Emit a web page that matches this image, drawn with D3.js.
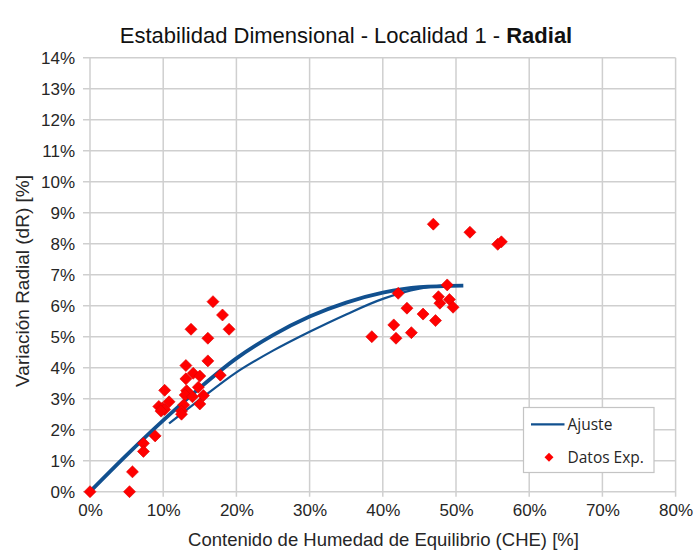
<!DOCTYPE html>
<html>
<head>
<meta charset="utf-8">
<script src="https://cdn.jsdelivr.net/npm/d3@7"></script>
<style>
  html, body { margin: 0; padding: 0; background: #fff; }
  svg { display: block; }
  text { font-family: "Liberation Sans", Arial, sans-serif; }
</style>
</head>
<body>
<svg id="chart" width="695" height="551"></svg>
<script>
// ---- Data ----
const xTicks = [0, 10, 20, 30, 40, 50, 60, 70, 80];
const yTicks = [0, 1, 2, 3, 4, 5, 6, 7, 8, 9, 10, 11, 12, 13, 14];

// Experimental points: CHE [%] and dR [%]
const expX = [0, 5.4, 5.8, 7.3, 7.3, 8.9, 10.2, 9.4, 9.9, 10.2, 10.8, 9.7,
  13.8, 16.8, 18.1, 19.0, 16.1, 16.1, 17.8, 13.1, 13.1, 14.1, 15.0, 13.2,
  13.0, 14.0, 14.8, 15.5, 15.0, 12.8, 12.5, 12.5,
  38.5, 41.8, 41.5, 43.9, 43.3, 42.1, 45.5, 47.2, 47.8, 47.6, 49.1, 49.6,
  48.8, 46.9, 51.9, 55.7, 56.2];
const expY = [0, 0, 0.64, 1.56, 1.3, 1.8, 3.27, 2.75, 2.7, 2.65, 2.9, 2.6,
  5.24, 6.13, 5.7, 5.24, 4.95, 4.22, 3.76, 4.07, 3.64, 3.82, 3.73, 3.26,
  3.12, 3.06, 3.37, 3.1, 2.83, 2.8, 2.6, 2.5,
  5.0, 4.95, 5.38, 5.13, 5.92, 6.4, 5.73, 5.52, 6.08, 6.29, 6.2, 5.95,
  6.67, 8.63, 8.37, 7.98, 8.06];

// Fitted curves (Ajuste)
const fit1X = [0, 5, 10, 15, 20, 25, 30, 35, 40, 45, 51];
const fit1Y = [0, 1.18, 2.3, 3.35, 4.3, 5.05, 5.65, 6.1, 6.42, 6.6, 6.65];
const fit2X = [10.8, 15, 20, 25, 30, 35, 40, 45, 48];
const fit2Y = [2.2, 2.97, 3.85, 4.55, 5.16, 5.72, 6.22, 6.55, 6.65];

const titleMain = "Estabilidad Dimensional - Localidad 1 - ";
const titleBold = "Radial";
const xTitle = "Contenido de Humedad de Equilibrio (CHE) [%]";
const yTitle = "Variación Radial (dR) [%]";
const legendLabels = ["Ajuste", "Datos Exp."];

// ---- Drawing ----
const svg = d3.select("#chart");
const x = d3.scaleLinear().domain([0, 80]).range([90, 675.6]);
const y = d3.scaleLinear().domain([0, 14]).range([491.7, 57.7]);

const gridColor = "#cfcfcf";
const textColor = "#262626";
const blue = "#11508f";

// gridlines
svg.append("g").selectAll("line.v").data(xTicks).join("line")
  .attr("x1", d => x(d)).attr("x2", d => x(d))
  .attr("y1", y(14)).attr("y2", y(0) + 5)
  .attr("stroke", gridColor).attr("stroke-width", 1.5);
svg.append("g").selectAll("line.h").data(yTicks).join("line")
  .attr("x1", x(0) - 7).attr("x2", x(80))
  .attr("y1", d => y(d)).attr("y2", d => y(d))
  .attr("stroke", gridColor).attr("stroke-width", 1.5);

// axes via d3 axis (labels only)
const xAxis = d3.axisBottom(x).tickValues(xTicks).tickFormat(d => d + "%").tickSize(0).tickPadding(0);
const gx = svg.append("g").attr("transform", `translate(0,${y(0) + 12})`).call(xAxis);
gx.select(".domain").remove();
gx.selectAll("text").attr("font-size", 17).attr("fill", textColor)
  .attr("font-family", "Liberation Sans, Arial, sans-serif").attr("dy", "0.75em");

const yAxis = d3.axisLeft(y).tickValues(yTicks).tickFormat(d => d + "%").tickSize(0).tickPadding(0);
const gy = svg.append("g").attr("transform", `translate(${x(0) - 15},0)`).call(yAxis);
gy.select(".domain").remove();
gy.selectAll("text").attr("font-size", 17).attr("fill", textColor)
  .attr("font-family", "Liberation Sans, Arial, sans-serif").attr("dy", "0.35em");

// curves
const line = d3.line().x(d => x(d[0])).y(d => y(d[1])).curve(d3.curveMonotoneX);
svg.append("path").datum(fit2X.map((v, i) => [v, fit2Y[i]]))
  .attr("d", line).attr("fill", "none").attr("stroke", blue).attr("stroke-width", 2.2);
svg.append("path").datum(fit1X.map((v, i) => [v, fit1Y[i]]))
  .attr("d", line).attr("fill", "none").attr("stroke", blue).attr("stroke-width", 3.8);

// points
const diamond = d3.symbol().type(d3.symbolSquare).size(72);
svg.append("g").selectAll("path").data(expX.map((v, i) => [v, expY[i]])).join("path")
  .attr("d", diamond)
  .attr("transform", d => `translate(${x(d[0])},${y(d[1])}) rotate(45)`)
  .attr("fill", "#ff0000").attr("stroke", "#e00000").attr("stroke-width", 0.6);

// title
const t = svg.append("text").attr("x", 346).attr("y", 43).attr("text-anchor", "middle")
  .attr("font-size", 22).attr("fill", "#111");
t.append("tspan").text(titleMain);
t.append("tspan").attr("font-weight", "bold").text(titleBold);

// axis titles
svg.append("text").attr("x", 383.5).attr("y", 546).attr("text-anchor", "middle")
  .attr("font-size", 18.5).attr("fill", textColor).text(xTitle);
svg.append("text").attr("transform", "translate(29,281) rotate(-90)")
  .attr("text-anchor", "middle").attr("font-size", 19).attr("fill", textColor).text(yTitle);

// legend
const lg = svg.append("g");
lg.append("rect").attr("x", 523.5).attr("y", 407.5).attr("width", 130.5).attr("height", 65)
  .attr("fill", "#fff").attr("stroke", "#c4c4c4").attr("stroke-width", 1.2);
lg.append("line").attr("x1", 531).attr("x2", 564.5).attr("y1", 424.3).attr("y2", 424.3)
  .attr("stroke", blue).attr("stroke-width", 2.2);
lg.append("path").attr("d", d3.symbol().type(d3.symbolSquare).size(40)())
  .attr("transform", "translate(549,457.3) rotate(45)").attr("fill", "#ff0000");
lg.selectAll("text.lg").data(legendLabels).join("text")
  .attr("x", 567.5).attr("y", (d, i) => 424.3 + i * 33)
  .attr("dy", "0.35em").attr("font-size", 15.5).attr("fill", textColor)
  .style("font-family", "'Open Sans', 'Noto Sans', sans-serif").text(d => d);
</script>
</body>
</html>
